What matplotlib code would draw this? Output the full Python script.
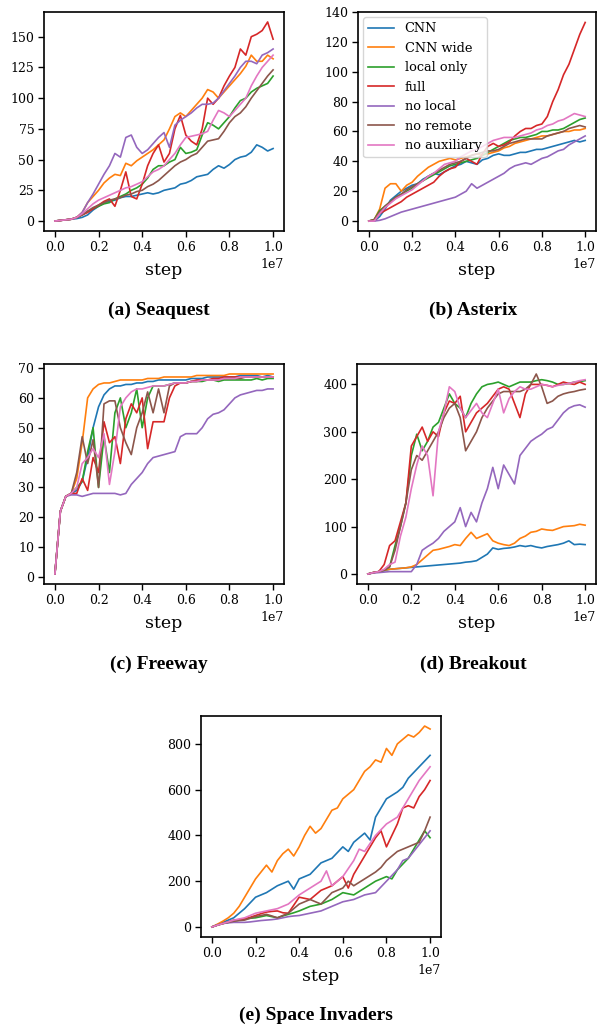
import numpy as np
import matplotlib
matplotlib.use("Agg")
import matplotlib.pyplot as plt

# ---------------- data ----------------
labels = ["CNN", "CNN wide", "local only", "full", "no local", "no remote", "no auxiliary"]
colors = ["#1f77b4", "#ff7f0e", "#2ca02c", "#d62728", "#9467bd", "#8c564b", "#e377c2"]

# training steps (x 1e7), 0.025 spacing
steps = [0.0, 0.025, 0.05, 0.075, 0.1, 0.125, 0.15, 0.175, 0.2, 0.225, 0.25, 0.275, 0.3, 0.325,
         0.35, 0.375, 0.4, 0.425, 0.45, 0.475, 0.5, 0.525, 0.55, 0.575, 0.6, 0.625, 0.65, 0.675,
         0.7, 0.725, 0.75, 0.775, 0.8, 0.825, 0.85, 0.875, 0.9, 0.925, 0.95, 0.975, 1.0]

# (a) Seaquest
sea_cnn = [0, 0.5, 1, 1.5, 2, 3, 5, 9, 12, 15, 16, 17, 19, 20, 20, 21, 22, 23, 22, 23, 25, 26, 27, 30, 31, 33, 36, 37, 38, 42, 45, 43, 46, 50, 52, 53, 56, 62, 60, 57, 59]
sea_wide = [0, 0.5, 1, 1.5, 3, 7, 15, 20, 25, 31, 35, 38, 37, 47, 45, 49, 52, 55, 58, 62, 66, 75, 85, 88, 85, 90, 95, 100, 107, 105, 100, 105, 110, 115, 120, 126, 135, 130, 130, 135, 132]
sea_local = [0, 0.5, 1, 1.5, 3, 5, 8, 10, 12, 14, 15, 18, 20, 22, 25, 27, 30, 35, 42, 45, 45, 48, 50, 60, 55, 56, 58, 70, 80, 78, 75, 80, 85, 92, 98, 100, 105, 108, 110, 112, 118]
sea_full = [0, 0.5, 1, 1.5, 3, 5, 7, 10, 13, 16, 18, 12, 25, 40, 20, 18, 30, 45, 55, 62, 48, 55, 75, 86, 70, 65, 62, 75, 100, 95, 100, 110, 118, 125, 140, 135, 150, 152, 155, 162, 148]
sea_nolocal = [0, 0.5, 1, 1.5, 3, 7, 15, 22, 30, 38, 45, 55, 52, 68, 70, 60, 55, 58, 63, 68, 72, 60, 78, 82, 85, 88, 92, 95, 95, 96, 100, 106, 112, 118, 125, 130, 130, 128, 135, 137, 140]
sea_noremote = [0, 0.5, 1, 1.5, 3, 5, 8, 11, 13, 15, 17, 18, 19, 21, 22, 24, 25, 28, 30, 33, 37, 41, 45, 48, 50, 53, 55, 60, 65, 66, 67, 73, 80, 85, 88, 93, 100, 106, 112, 118, 123]
sea_noaux = [0, 0.5, 1, 1.5, 3, 6, 10, 14, 17, 19, 21, 23, 25, 27, 28, 30, 32, 36, 40, 42, 45, 50, 55, 62, 68, 69, 70, 71, 73, 82, 90, 88, 85, 90, 95, 100, 110, 118, 125, 130, 135]

# (b) Asterix
ast_cnn = [0, 0, 3, 8, 14, 17, 20, 22, 24, 25, 28, 30, 32, 31, 33, 35, 37, 38, 40, 39, 38, 41, 42, 44, 45, 44, 44, 45, 46, 46, 47, 48, 48, 49, 50, 51, 52, 53, 54, 53, 54]
ast_wide = [0, 1, 8, 22, 25, 25, 20, 24, 26, 30, 33, 36, 38, 40, 41, 42, 41, 42, 43, 44, 45, 44, 45, 46, 47, 49, 50, 52, 53, 54, 55, 56, 57, 57, 58, 59, 60, 60, 61, 61, 62]
ast_local = [0, 1, 7, 10, 13, 16, 18, 20, 22, 25, 27, 29, 31, 33, 35, 37, 38, 39, 40, 41, 42, 44, 46, 48, 50, 52, 54, 55, 56, 56, 57, 58, 60, 60, 61, 61, 62, 64, 66, 68, 69]
ast_full = [0, 0, 5, 7, 9, 11, 13, 16, 18, 20, 22, 24, 26, 30, 33, 35, 36, 40, 42, 40, 38, 45, 50, 52, 50, 51, 53, 57, 60, 62, 62, 64, 65, 70, 80, 88, 98, 105, 115, 125, 133]
ast_nolocal = [0, 0, 0.5, 1.5, 3, 4.5, 6, 7, 8, 9, 10, 11, 12, 13, 14, 15, 16, 18, 20, 25, 22, 24, 26, 28, 30, 32, 35, 37, 38, 39, 38, 40, 42, 43, 45, 47, 48, 51, 53, 55, 57]
ast_noremote = [0, 1, 6, 10, 13, 16, 18, 21, 23, 25, 27, 30, 32, 34, 36, 38, 39, 40, 42, 44, 45, 46, 47, 47, 48, 50, 52, 53, 54, 55, 55, 55, 55, 57, 58, 59, 60, 62, 63, 64, 63]
ast_noaux = [0, 0, 5, 9, 12, 15, 17, 19, 21, 24, 27, 30, 32, 35, 38, 39, 40, 43, 45, 47, 48, 50, 52, 54, 55, 56, 56, 56, 57, 58, 59, 61, 62, 64, 65, 67, 68, 70, 72, 71, 70]

# (c) Freeway
fre_cnn = [1, 22, 27, 28, 29, 32, 40, 50, 57, 61, 63, 64, 64, 64.5, 64.5, 65, 65, 65.5, 65.5, 66, 66, 66, 66, 66, 66, 66.5, 66.5, 66.5, 67, 67, 67, 67, 67, 67, 67.5, 67.5, 67.5, 67.5, 67, 67.5, 67]
fre_wide = [1, 22, 27, 28, 33, 45, 60, 63, 64.5, 65, 65, 65.5, 66, 66, 66, 66, 66, 66.5, 66.5, 66.5, 67, 67, 67, 67, 67, 67, 67.5, 67.5, 67.5, 67.5, 67.5, 67.5, 68, 68, 68, 68, 68, 68, 68, 68, 68]
fre_local = [1, 22, 27, 28, 30, 32, 42, 50, 30, 47, 35, 55, 60, 50, 55, 63, 50, 60, 64, 64, 64, 64.5, 65, 65, 65, 65.5, 65.5, 65.5, 66, 66, 65.5, 66, 66, 66, 66, 66, 66, 66.5, 66, 66.5, 66.5]
fre_full = [1, 22, 27, 28, 28, 33, 29, 40, 35, 52, 45, 47, 38, 53, 58, 55, 60, 43, 52, 52, 52, 60, 64, 65, 65, 65.5, 66, 66, 66, 66.5, 66.5, 67, 67, 67, 67, 67, 67, 67, 67, 67, 67]
fre_nolocal = [1, 22, 27, 27.5, 27.5, 27, 27.5, 28, 28, 28, 28, 28, 27.5, 28, 31, 33, 35, 38, 40, 40.5, 41, 41.5, 42, 47, 48, 48, 48, 50, 53, 54.5, 55, 56, 58, 60, 61, 61.5, 62, 62.5, 62.5, 63, 63]
fre_noremote = [1, 22, 27, 28, 35, 47, 38, 46, 30, 58, 59, 59, 50, 45, 41, 50, 55, 62, 55, 63, 55, 64, 65, 65, 65, 65.5, 65.5, 66, 66, 66, 66, 66.5, 66.5, 66.5, 66.5, 67, 67, 67, 67, 67, 67]
fre_noaux = [1, 22, 27, 28, 30, 38, 40, 43, 40, 48, 31, 42, 57, 60, 62, 63, 63, 63.5, 64, 64, 64, 64.5, 65, 65, 65, 65.5, 65.5, 66, 66, 66, 66, 66.5, 66.5, 66.5, 67, 67, 67, 67, 67, 67, 67]

# (d) Breakout
brk_cnn = [0, 3, 5, 7, 10, 11, 12, 13, 14, 15, 16, 17, 18, 19, 20, 21, 22, 23, 25, 26, 28, 35, 42, 55, 52, 54, 55, 57, 60, 58, 60, 57, 55, 58, 60, 62, 65, 70, 62, 63, 62]
brk_wide = [0, 3, 5, 8, 10, 11, 12, 13, 15, 20, 30, 40, 50, 52, 55, 58, 62, 60, 75, 88, 75, 80, 85, 70, 65, 62, 60, 65, 75, 80, 88, 90, 95, 93, 92, 96, 100, 101, 102, 105, 103]
brk_local = [0, 3, 5, 8, 15, 60, 100, 150, 250, 295, 260, 280, 310, 320, 350, 380, 360, 350, 330, 360, 380, 395, 400, 402, 405, 400, 395, 400, 405, 405, 405, 408, 410, 408, 405, 400, 400, 402, 405, 406, 408]
brk_full = [0, 3, 5, 20, 60, 70, 110, 150, 270, 290, 310, 280, 300, 290, 340, 365, 360, 375, 300, 320, 340, 350, 360, 375, 390, 395, 390, 360, 330, 380, 400, 400, 400, 398, 395, 400, 405, 402, 400, 405, 400]
brk_nolocal = [0, 2, 3, 4, 5, 5, 5, 5, 5, 20, 50, 58, 65, 75, 90, 100, 110, 140, 100, 130, 110, 150, 180, 225, 180, 230, 210, 190, 250, 265, 280, 288, 295, 305, 310, 325, 340, 350, 355, 357, 352]
brk_noremote = [0, 3, 5, 8, 15, 50, 100, 150, 220, 250, 240, 260, 280, 300, 330, 350, 360, 330, 260, 280, 300, 330, 350, 365, 380, 385, 385, 385, 385, 390, 400, 422, 395, 360, 365, 375, 380, 383, 385, 388, 390]
brk_noaux = [0, 3, 5, 10, 20, 25, 80, 120, 180, 230, 270, 250, 165, 300, 340, 395, 385, 350, 330, 345, 360, 340, 330, 360, 390, 340, 370, 385, 395, 390, 390, 395, 400, 398, 395, 398, 400, 402, 405, 408, 410]

# (e) Space Invaders
spi_cnn = [0, 10, 20, 30, 40, 60, 80, 105, 130, 140, 150, 165, 180, 190, 200, 165, 210, 220, 230, 255, 280, 290, 300, 325, 350, 330, 370, 390, 410, 380, 480, 520, 560, 575, 590, 610, 650, 675, 700, 725, 750]
spi_wide = [0, 12, 25, 40, 60, 90, 130, 170, 210, 240, 270, 240, 290, 320, 340, 310, 350, 400, 440, 410, 430, 470, 510, 520, 560, 580, 600, 640, 680, 700, 730, 720, 780, 750, 800, 820, 840, 830, 850, 878, 865]
spi_local = [0, 8, 15, 20, 25, 30, 35, 38, 40, 45, 50, 45, 40, 48, 55, 62, 70, 80, 90, 95, 100, 110, 120, 135, 150, 145, 140, 155, 170, 185, 200, 210, 220, 210, 250, 275, 300, 340, 380, 420, 390]
spi_full = [0, 8, 15, 22, 30, 32, 35, 42, 50, 58, 65, 68, 70, 62, 60, 95, 130, 125, 120, 140, 160, 170, 180, 200, 220, 170, 230, 270, 310, 350, 390, 420, 350, 400, 450, 520, 530, 520, 570, 600, 640]
spi_nolocal = [0, 8, 15, 18, 20, 20, 20, 22, 25, 28, 30, 32, 35, 40, 45, 48, 50, 55, 60, 65, 70, 80, 90, 100, 110, 115, 120, 130, 140, 145, 150, 175, 200, 225, 250, 290, 300, 330, 360, 390, 420]
spi_noremote = [0, 8, 15, 20, 25, 28, 30, 38, 45, 50, 55, 48, 40, 50, 60, 80, 100, 110, 120, 110, 100, 125, 150, 160, 170, 200, 180, 195, 210, 225, 240, 260, 290, 310, 330, 340, 350, 360, 370, 420, 480]
spi_noaux = [0, 8, 15, 22, 30, 35, 40, 50, 60, 65, 70, 75, 80, 90, 100, 120, 140, 155, 170, 185, 200, 245, 180, 200, 220, 255, 290, 340, 330, 365, 400, 425, 450, 465, 480, 520, 560, 600, 640, 670, 700]

# y tick values per panel
yticks_sea = [0, 25, 50, 75, 100, 125, 150]
yticks_ast = [0, 20, 40, 60, 80, 100, 120, 140]
yticks_fre = [0, 10, 20, 30, 40, 50, 60, 70]
yticks_brk = [0, 100, 200, 300, 400]
yticks_spi = [0, 200, 400, 600, 800]
xticks = [0.0, 0.2, 0.4, 0.6, 0.8, 1.0]

panels = [
    ("(a) Seaquest", [sea_cnn, sea_wide, sea_local, sea_full, sea_nolocal, sea_noremote, sea_noaux], yticks_sea),
    ("(b) Asterix", [ast_cnn, ast_wide, ast_local, ast_full, ast_nolocal, ast_noremote, ast_noaux], yticks_ast),
    ("(c) Freeway", [fre_cnn, fre_wide, fre_local, fre_full, fre_nolocal, fre_noremote, fre_noaux], yticks_fre),
    ("(d) Breakout", [brk_cnn, brk_wide, brk_local, brk_full, brk_nolocal, brk_noremote, brk_noaux], yticks_brk),
    ("(e) Space Invaders", [spi_cnn, spi_wide, spi_local, spi_full, spi_nolocal, spi_noremote, spi_noaux], yticks_spi),
]

# ---------------- layout ----------------
W, H = 597, 1028
plt.rcParams['font.family'] = ['DejaVu Serif']
fig = plt.figure(figsize=(W / 100, H / 100), dpi=100)

# axes boxes in pixels: left, top, right, bottom
boxes = [(44, 12, 284, 231), (358, 12, 596, 231),
         (44, 364, 284, 584), (357, 364, 596, 584),
         (201, 716, 441, 937)]
captions_xy = [(159, 310), (473, 310), (159, 664), (473, 664), (316, 1015)]

x = np.array(steps) * 1e7
for i, ((title, series, yt), (l, t, r, b), (cx, cy)) in enumerate(zip(panels, boxes, captions_xy)):
    ax = fig.add_axes([l / W, 1 - b / H, (r - l) / W, (b - t) / H])
    for lab, col, ys in zip(labels, colors, series):
        assert len(ys) == len(steps), (title, lab, len(ys))
        ax.plot(x, ys, color=col, lw=1.2, label=lab)
    ax.tick_params(labelsize=9, length=4, width=1.0, pad=3)
    ax.set_xticks(np.array(xticks) * 1e7)
    ax.set_yticks(yt)
    ax.set_xlabel("step", fontsize=12.5, labelpad=6)
    ax.xaxis.get_offset_text().set_fontsize(9)
    for sp in ax.spines.values():
        sp.set_linewidth(1.2)
    if i == 1:
        ax.legend(loc='upper left', fontsize=9.3, handlelength=2.0, borderaxespad=0.4)
    fig.text(cx / W, 1 - cy / H, title, ha='center', va='center',
             fontsize=14, fontweight='bold', family='Liberation Serif')

fig.savefig("out.png", dpi=100)
